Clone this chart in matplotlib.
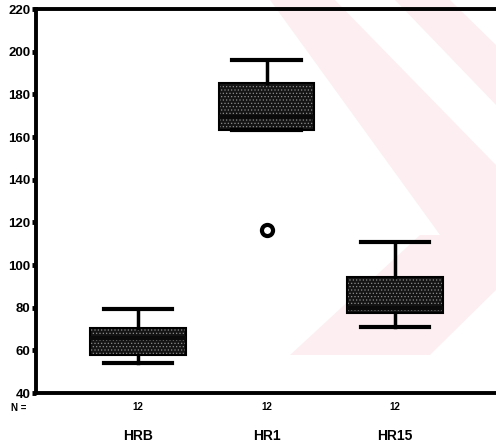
import matplotlib.pyplot as plt
from matplotlib.patches import Polygon

plt.rcParams['font.family'] = ['Liberation Sans', 'DejaVu Sans']

# values
groups = ['HRB', 'HR1', 'HR15']
n_counts = [12, 12, 12]
whisker_low = [54, 163.5, 71]
q1 = [58, 163.5, 77.5]
medians = [66, 169.5, 80]
q3 = [70.5, 185.5, 94.5]
whisker_high = [79.5, 196, 111]
outliers = [[], [116.5], []]
yticks = [40, 60, 80, 100, 120, 140, 160, 180, 200, 220]

W, H = 496, 446
fig = plt.figure(figsize=(W / 100, H / 100), dpi=100)

# faint pink watermark (scan background) behind the plot
for pts in ([(270, 0), (335, 0), (496, 165), (496, 235), (440, 235)],
            [(395, 0), (450, 0), (496, 45), (496, 105)],
            [(290, 355), (420, 235), (496, 235), (496, 290), (430, 355)]):
    fig.patches.append(Polygon([(x / W, 1 - y / H) for x, y in pts], closed=True,
                               transform=fig.transFigure, facecolor='#fdeff1',
                               edgecolor='none', zorder=0))

left_px, top_px, bot_px, right_px = 36, 9, 393, 520
ax = fig.add_axes([left_px / W, 1 - bot_px / H, (right_px - left_px) / W, (bot_px - top_px) / H])
ax.set_zorder(2)
ax.patch.set_alpha(0)

pos = [1, 2, 3]
spacing = 128.5
ax.set_xlim(1 - (138 - left_px) / spacing, 1 + (right_px - 138) / spacing)
ax.set_ylim(40, 220)

stats = []
for i, g in enumerate(groups):
    stats.append({'label': g, 'whislo': whisker_low[i], 'q1': q1[i], 'med': medians[i],
                  'q3': q3[i], 'whishi': whisker_high[i], 'fliers': outliers[i]})

bp = ax.bxp(stats, positions=pos, widths=0.74, patch_artist=True, showfliers=True,
            boxprops=dict(facecolor='#151515', edgecolor='black', linewidth=1.5, hatch='.....'),
            medianprops=dict(color='#0a0a0a', linewidth=3),
            whiskerprops=dict(color='black', linewidth=2.5),
            capprops=dict(color='black', linewidth=3),
            capwidths=0.53,
            flierprops=dict(marker='o', markersize=8, markerfacecolor='white',
                            markeredgecolor='black', markeredgewidth=3))
for b in bp['boxes']:
    b.set_hatch_linewidth(0.5)
    b._hatch_color = (0.55, 0.55, 0.55, 1.0)

for side in ['left', 'bottom', 'top']:
    ax.spines[side].set_linewidth(2.8)
ax.spines['right'].set_visible(False)

ax.set_yticks(yticks)
ax.set_yticklabels([str(t) for t in yticks], fontsize=9.5, fontweight='bold')
ax.tick_params(axis='y', direction='out', length=3, width=3.5, pad=1)
ax.set_xticks([])

# counts row and group names under the axis
ax.text(-0.02, -0.04, 'N =', transform=ax.transAxes, ha='right', va='center',
        fontsize=7, fontweight='bold')
for p, n, g in zip(pos, n_counts, groups):
    ax.text(p, 33.5, str(n), ha='center', va='center', fontsize=7, fontweight='bold', clip_on=False)
    ax.text(p, 20, g, ha='center', va='center', fontsize=10, fontweight='bold', clip_on=False)

fig.savefig('out.png', dpi=100)
